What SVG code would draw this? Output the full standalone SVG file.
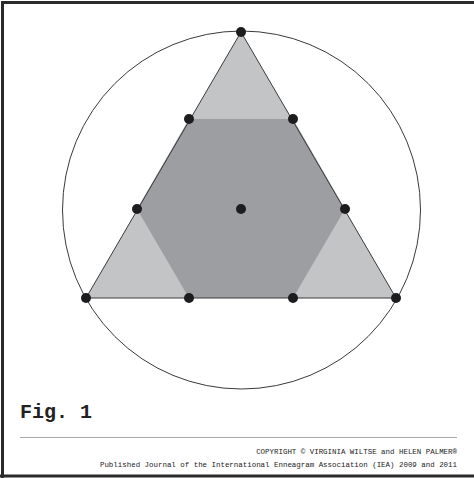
<svg xmlns="http://www.w3.org/2000/svg" width="474" height="478" viewBox="0 0 474 478">
<style>
.dot{fill:#1d1d1f}
.edge{stroke:#3a3a3c;stroke-width:1;fill:none}
.small{font-family:"Liberation Mono",monospace;font-size:7.45px;fill:#222}
</style>
<rect width="474" height="478" fill="#fff"/>
<path d="M2.5 478 V2.5 H474" fill="none" stroke="#2a2a2a" stroke-width="3"/>
<line x1="0" y1="476" x2="474" y2="476" stroke="#2a2a2a" stroke-width="3"/>
<g id="circle"><circle cx="241.5" cy="210" r="179" class="edge"/></g>
<g id="triangle">
<polygon points="241,32 396,298 86,298" fill="#c3c4c6"/>
<polygon points="189,119 293,119 345,209 293,298 189,298 137,209" fill="#9d9ea2"/>
<polygon points="241,32 396,298 86,298" class="edge"/>
</g>
<g id="dots">
<circle class="dot" cx="241" cy="32" r="5"/>
<circle class="dot" cx="189" cy="119" r="5"/>
<circle class="dot" cx="293" cy="119" r="5"/>
<circle class="dot" cx="137" cy="209" r="5"/>
<circle class="dot" cx="345" cy="209" r="5"/>
<circle class="dot" cx="241" cy="209" r="5"/>
<circle class="dot" cx="86" cy="298" r="5"/>
<circle class="dot" cx="189" cy="298" r="5"/>
<circle class="dot" cx="293" cy="298" r="5"/>
<circle class="dot" cx="396" cy="298" r="5"/>
</g>
<g id="caption">
<text x="20" y="418" font-family="Liberation Mono,monospace" font-weight="bold" font-size="20" fill="#222">Fig. 1</text>
<line x1="20" y1="437.5" x2="457" y2="437.5" stroke="#aaa" stroke-width="1"/>
<text class="small" x="457" y="454" text-anchor="end">COPYRIGHT © VIRGINIA WILTSE and HELEN PALMER®</text>
<text class="small" x="457" y="467" text-anchor="end">Published Journal of the International Enneagram Association (IEA) 2009 and 2011</text>
</g>
</svg>
